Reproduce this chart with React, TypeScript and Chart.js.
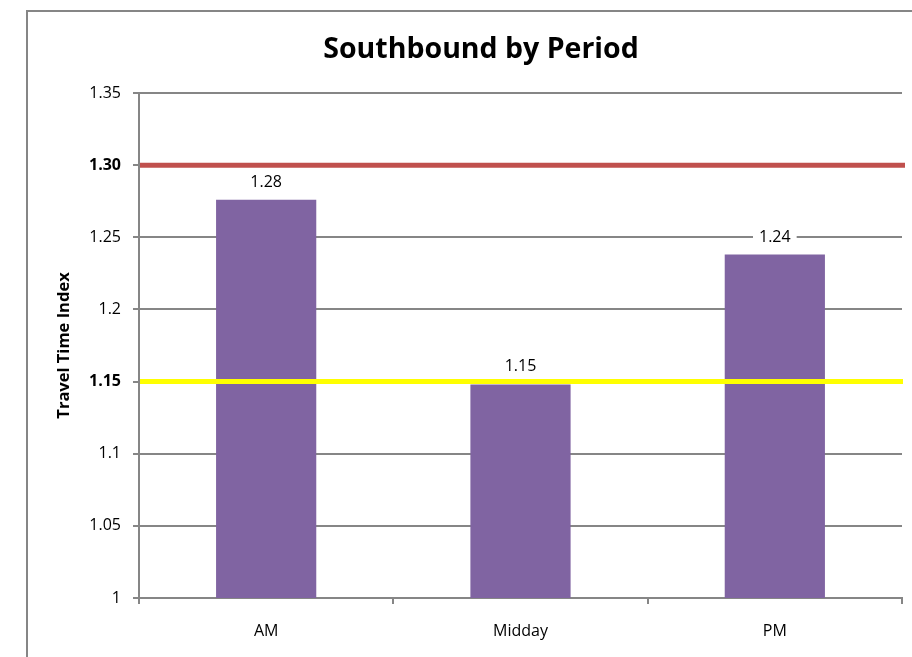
import React, { useEffect, useRef } from 'react';
import { Chart, registerables } from 'chart.js';

Chart.register(...registerables);

const titleText = 'Southbound by Period';
const yAxisTitle = 'Travel Time Index';
const categories = ['AM', 'Midday', 'PM'];
const travelTimeIndex = [1.276, 1.148, 1.238];
const valueLabels = ['1.28', '1.15', '1.24'];
const yTickValues = [1, 1.05, 1.1, 1.15, 1.2, 1.25, 1.3, 1.35];
const yTickLabels = ['1', '1.05', '1.1', '1.15', '1.2', '1.25', '1.30', '1.35'];
const boldTickValues = [1.15, 1.3];
const thresholdValues = [1.3, 1.15];
const thresholdColors = ['#c0504d', '#ffff00'];

const FONT = "'Open Sans', sans-serif";
const GRID = '#868686';

const framePlugin = {
  id: 'frame',
  beforeDraw(chart: any) {
    const { ctx, width, height } = chart;
    ctx.save();
    ctx.fillStyle = '#ffffff';
    ctx.fillRect(0, 0, width, height);
    ctx.strokeStyle = GRID;
    ctx.lineWidth = 2;
    ctx.beginPath();
    ctx.moveTo(27, height + 5);
    ctx.lineTo(27, 11);
    ctx.lineTo(width + 5, 11);
    ctx.stroke();
    ctx.restore();
  },
};

const titlePlugin = {
  id: 'customTitle',
  afterDraw(chart: any) {
    const { ctx } = chart;
    ctx.save();
    ctx.font = `bold 28.5px ${FONT}`;
    ctx.fillStyle = '#000000';
    ctx.textAlign = 'center';
    ctx.textBaseline = 'middle';
    ctx.fillText(titleText, 481, 50);
    ctx.restore();
  },
};

const thresholdPlugin = {
  id: 'thresholds',
  afterDatasetsDraw(chart: any) {
    const { ctx, chartArea, scales } = chart;
    ctx.save();
    thresholdValues.forEach((v, i) => {
      const y = scales.y.getPixelForValue(v);
      ctx.strokeStyle = thresholdColors[i];
      ctx.lineWidth = 5;
      ctx.beginPath();
      ctx.moveTo(chartArea.left + 1, y);
      ctx.lineTo(chartArea.right + (i === 0 ? 3 : 1), y);
      ctx.stroke();
    });
    ctx.restore();
  },
};

const valueLabelPlugin = {
  id: 'valueLabels',
  afterDatasetsDraw(chart: any) {
    const { ctx } = chart;
    const meta = chart.getDatasetMeta(0);
    ctx.save();
    ctx.font = `16px ${FONT}`;
    ctx.textAlign = 'center';
    ctx.textBaseline = 'alphabetic';
    meta.data.forEach((bar: any, i: number) => {
      const text = valueLabels[i];
      const w = ctx.measureText(text).width;
      const baseY = bar.y - 13;
      ctx.fillStyle = '#ffffff';
      ctx.fillRect(bar.x - w / 2 - 6, baseY - 16, w + 12, 22);
      ctx.fillStyle = '#000000';
      ctx.fillText(text, bar.x, baseY);
    });
    ctx.restore();
  },
};

export default function App() {
  const canvasRef = useRef<HTMLCanvasElement | null>(null);

  useEffect(() => {
    if (!canvasRef.current) return;
    Chart.defaults.font.family = FONT;
    const chart = new Chart(canvasRef.current, {
      type: 'bar',
      data: {
        labels: categories,
        datasets: [
          {
            label: yAxisTitle,
            data: travelTimeIndex,
            backgroundColor: '#8064a2',
            borderWidth: 0,
            barPercentage: 0.394,
            categoryPercentage: 1,
          },
        ],
      },
      options: {
        animation: false,
        responsive: false,
        devicePixelRatio: 1,
        layout: { padding: { top: 93, right: 10, left: 0, bottom: 0 } },
        plugins: {
          legend: { display: false },
          title: { display: false },
          tooltip: { enabled: false },
        },
        scales: {
          x: {
            offset: true,
            afterFit: (scale: any) => {
              scale.height = 59;
            },
            grid: {
              offset: true,
              drawOnChartArea: false,
              drawTicks: true,
              tickLength: 6,
              color: GRID,
              lineWidth: 2,
            },
            border: { display: true, color: GRID, width: 2 },
            ticks: {
              color: '#000000',
              font: { family: FONT, size: 16 },
              padding: 18,
            },
          },
          y: {
            min: 1,
            max: 1.35,
            afterFit: (scale: any) => {
              scale.width = 139;
            },
            afterBuildTicks: (scale: any) => {
              scale.ticks = yTickValues.map((v) => ({ value: v }));
            },
            grid: {
              color: GRID,
              lineWidth: 2,
              drawTicks: true,
              tickLength: 6,
            },
            border: { display: true, color: GRID, width: 2 },
            ticks: {
              color: '#000000',
              padding: 12,
              font: (ctx: any) => {
                const v = ctx && ctx.tick ? ctx.tick.value : NaN;
                const bold = boldTickValues.some((b) => Math.abs(b - v) < 1e-6);
                return { family: FONT, size: 16, weight: bold ? 'bold' : 'normal' };
              },
              callback: (_v: any, index: number) => yTickLabels[index],
            },
            title: {
              display: true,
              text: yAxisTitle,
              color: '#000000',
              font: { family: FONT, size: 16.5, weight: 'bold' },
              padding: { top: 54, bottom: 0 },
            },
          },
        },
      },
      plugins: [framePlugin, thresholdPlugin, valueLabelPlugin, titlePlugin],
    });
    return () => chart.destroy();
  }, []);

  return (
    <div style={{ position: 'fixed', left: 0, top: 0, width: 912, height: 657 }}>
      <canvas ref={canvasRef} width={912} height={657} style={{ display: 'block' }} />
    </div>
  );
}
